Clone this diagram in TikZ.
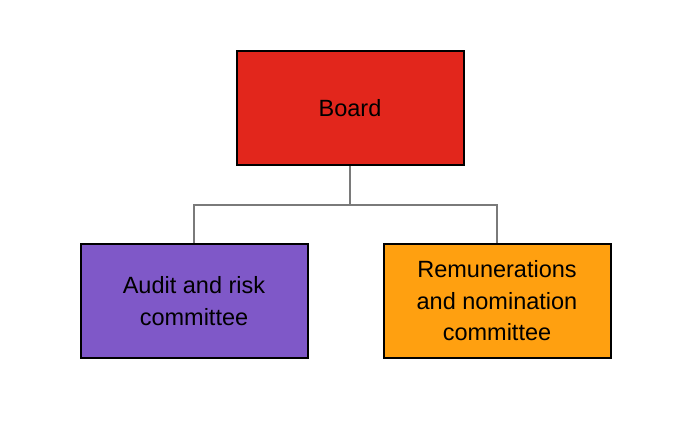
\documentclass[tikz,border=0pt]{standalone}
\usepackage{fontspec}
\setmainfont{Liberation Sans}
\definecolor{boardred}{HTML}{E2261C}
\definecolor{auditpurple}{HTML}{7F58C8}
\definecolor{remorange}{HTML}{FFA010}
\definecolor{linegray}{HTML}{7A7A7A}
\begin{document}
\begin{tikzpicture}[x=1pt,y=-1pt,
  orgbox/.style={draw=black, line width=2pt, minimum width=227pt, minimum height=114pt,
    inner sep=0pt, align=center, font=\fontsize{23.5}{31.5}\selectfont, text=black},
  link/.style={draw=linegray, line width=1.2pt}]
\useasboundingbox (0,0) rectangle (692,420);
\node[orgbox, fill=boardred] (board) at (350,108) {Board};
\node[orgbox, fill=auditpurple] (audit) at (194,301) {Audit and risk\\committee};
\node[orgbox, fill=remorange] (rem) at (497,301) {Remunerations\\and nomination\\committee};
\coordinate (bus) at (349,205);
\draw[link] (board.south) -- (board.south |- bus);
\draw[link] (audit.north) -- (audit.north |- bus) -- (rem.north |- bus) -- (rem.north);
\end{tikzpicture}
\end{document}
